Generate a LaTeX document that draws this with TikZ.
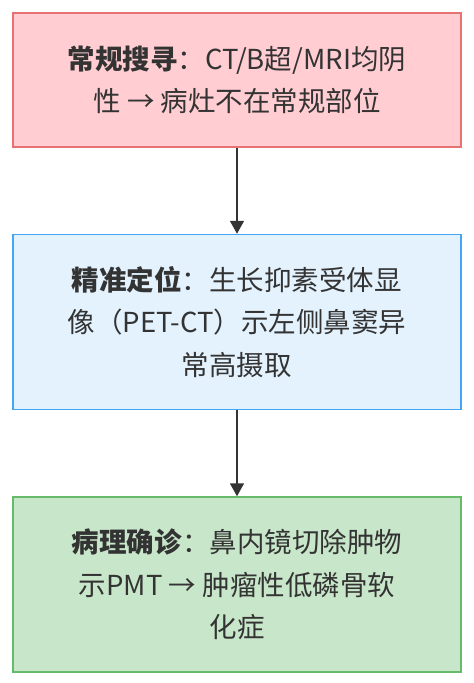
\documentclass[tikz,border=0pt]{standalone}
\usepackage{fontspec}
\setmainfont{Noto Sans CJK SC}
\usetikzlibrary{arrows.meta, positioning}

\definecolor{redfill}{HTML}{FFCDD2}
\definecolor{redline}{HTML}{E57373}
\definecolor{bluefill}{HTML}{E3F2FD}
\definecolor{blueline}{HTML}{42A5F5}
\definecolor{greenfill}{HTML}{C8E6C9}
\definecolor{greenline}{HTML}{66BB6A}
\definecolor{ink}{HTML}{333333}

\tikzset{
  stepbox/.style={draw, line width=1.5pt, minimum width=448pt, align=center,
    text=ink, font=\fontsize{27.5}{42.5}\selectfont, inner sep=0pt},
  flow/.style={-{Triangle[length=13pt, width=14pt]}, line width=1.5pt, draw=ink}
}

\begin{document}
\begin{tikzpicture}[x=1pt, y=1pt]

  \useasboundingbox (0,0) rectangle (474,-683);

  % Conventional search
  \node[stepbox, fill=redfill, draw=redline, minimum height=134pt] (search) at (237,-80)
    {\textbf{常规搜寻}：CT/B超/MRI均阴\\性 → 病灶不在常规部位};

  % Precise localisation
  \node[stepbox, fill=bluefill, draw=blueline, minimum height=175pt, below=86pt of search] (locate)
    {\textbf{精准定位}：生长抑素受体显\\像（PET-CT）示左侧鼻窦异\\常高摄取};

  % Pathology
  \node[stepbox, fill=greenfill, draw=greenline, minimum height=175pt, below=86pt of locate] (patho)
    {\textbf{病理确诊}：鼻内镜切除肿物\\示PMT → 肿瘤性低磷骨软\\化症};

  % Arrows
  \draw[flow] (search) -- (locate);
  \draw[flow] (locate) -- (patho);

\end{tikzpicture}
\end{document}
